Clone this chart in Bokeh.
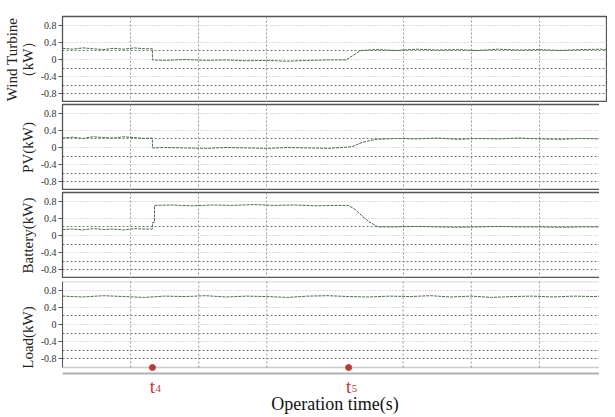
from bokeh.plotting import figure
from bokeh.layouts import column
from bokeh.models import FixedTicker, Range1d, BoxAnnotation
from bokeh.core.properties import value
from bokeh.embed import file_html
from bokeh.resources import INLINE

# ---- data (time in grid divisions) ----
wind_t = [0.0, 0.15, 0.3, 0.45, 0.6, 0.75, 0.9, 1.05, 1.2, 1.32, 1.32, 1.5, 1.8, 2.1, 2.4, 2.7, 3.0, 3.3, 3.6, 3.9,
          4.16, 4.25, 4.38, 4.6, 4.9, 5.2, 5.5, 5.8, 6.1, 6.4, 6.7, 7.0, 7.3, 7.6, 7.9, 8.0]
wind_v = [0.26, 0.24, 0.27, 0.25, 0.23, 0.26, 0.24, 0.27, 0.25, 0.25, -0.01, -0.02, 0.0, -0.02, -0.01, -0.03, -0.02, -0.04, -0.02, -0.01,
          -0.01, 0.08, 0.21, 0.23, 0.21, 0.24, 0.22, 0.23, 0.21, 0.24, 0.22, 0.23, 0.21, 0.23, 0.24, 0.22]

pv_t = [0.0, 0.15, 0.3, 0.45, 0.6, 0.75, 0.9, 1.05, 1.2, 1.32, 1.32, 1.5, 1.8, 2.1, 2.4, 2.7, 3.0, 3.3, 3.6, 3.9,
        4.1, 4.25, 4.4, 4.6, 4.9, 5.2, 5.5, 5.8, 6.1, 6.4, 6.7, 7.0, 7.3, 7.6, 7.9, 8.0]
pv_v = [0.22, 0.24, 0.21, 0.25, 0.23, 0.22, 0.25, 0.23, 0.21, 0.22, -0.01, 0.0, -0.01, -0.02, 0.0, -0.01, -0.02, 0.0, -0.01, -0.02,
        0.0, 0.02, 0.12, 0.19, 0.21, 0.2, 0.22, 0.19, 0.21, 0.2, 0.22, 0.2, 0.19, 0.21, 0.2, 0.22]

bat_t = [0.0, 0.15, 0.3, 0.45, 0.6, 0.75, 0.9, 1.05, 1.2, 1.32, 1.32, 1.35, 1.35, 1.6, 1.9, 2.2, 2.5, 2.8, 3.1, 3.4, 3.7, 4.0,
         4.2, 4.3, 4.4, 4.5, 4.63, 4.9, 5.2, 5.5, 5.8, 6.1, 6.4, 6.7, 7.0, 7.3, 7.6, 8.0]
bat_v = [0.14, 0.15, 0.13, 0.16, 0.14, 0.15, 0.13, 0.16, 0.15, 0.15, 0.3, 0.3, 0.7, 0.71, 0.69, 0.71, 0.7, 0.72, 0.7, 0.71, 0.69, 0.7,
         0.7, 0.6, 0.45, 0.32, 0.2, 0.2, 0.21, 0.2, 0.19, 0.2, 0.21, 0.2, 0.2, 0.19, 0.2, 0.2]

load_t = [0.0, 0.3, 0.6, 0.9, 1.2, 1.5, 1.8, 2.1, 2.4, 2.7, 3.0, 3.3, 3.6, 3.9, 4.2, 4.5, 4.8, 5.1, 5.4, 5.7,
          6.0, 6.3, 6.6, 6.9, 7.2, 7.5, 7.8, 8.0]
load_v = [0.66, 0.64, 0.67, 0.65, 0.63, 0.66, 0.65, 0.67, 0.64, 0.66, 0.65, 0.63, 0.66, 0.67, 0.65, 0.64, 0.66, 0.65, 0.67, 0.64,
          0.66, 0.63, 0.65, 0.66, 0.64, 0.66, 0.65, 0.67]

y_ticks = [0.8, 0.4, 0.0, -0.4, -0.8]
y_tick_labels = ["0.8", "0.4", "0", "-0.4", "-0.8"]
grid_x = [1, 2, 3, 5, 6, 7]
light_levels = [0.8, 0.4, 0.0, -0.4]
dark_levels = [0.2, -0.2, -0.6, -0.8]
event_t = [1.32, 4.2]
event_main = ["t", "t"]
event_sub = ["4", "5"]

labels = ["Wind Turbine\n\uff08kW\uff09", "PV(kW)", "Battery(kW)", "Load(kW)"]
series = [(wind_t, wind_v), (pv_t, pv_v), (bat_t, bat_v), (load_t, load_v)]

SERIF = "Liberation Serif"
LINE = "#4a6b4a"
RED = "#c23b32"
FW = 545
FH = 86
EXT_PX = 26
EXT = EXT_PX / (FH / 2.0)      # extra room below the last panel, data units
PXU = 1.0 / (FH / 2.0)         # one pixel in data units


def make_panel(i):
    last = i == 3
    top = [16, 2, 2, 3][i]
    fh = FH + (EXT_PX if last else 0)
    p = figure(frame_width=FW, frame_height=fh,
               x_range=Range1d(0, 8),
               y_range=Range1d(-1 - EXT if last else -1, 1),
               output_backend="svg", toolbar_location=None,
               min_border_left=54, min_border_right=0,
               min_border_top=top, min_border_bottom=21 if last else 0)
    p.background_fill_color = "white"
    p.border_fill_color = "white"

    # y axis
    ya = p.yaxis[0]
    ya.ticker = FixedTicker(ticks=y_ticks)
    ya.major_label_overrides = {k: s for k, s in zip(y_ticks, y_tick_labels)}
    ya.major_label_text_font = SERIF
    ya.major_label_text_font_size = "10px"
    ya.major_label_text_color = "#333333"
    ya.major_label_standoff = 2
    ya.major_tick_out = 4
    ya.major_tick_in = 0
    ya.major_tick_line_color = "#555555"
    ya.minor_tick_line_color = None
    ya.axis_line_color = "#555555"
    ya.axis_label = labels[i]
    ya.axis_label_text_font = SERIF
    ya.axis_label_text_font_style = "normal"
    ya.axis_label_text_font_size = "15px"
    ya.axis_label_text_line_height = 1.0
    ya.axis_label_text_color = "#222222"
    ya.axis_label_standoff = 2
    ya.bounds = (-1, 1)

    # y grid
    p.ygrid.ticker = FixedTicker(ticks=light_levels, minor_ticks=dark_levels)
    p.ygrid.grid_line_color = "#bbbbbb"
    p.ygrid.grid_line_dash = "1 2"
    p.ygrid.minor_grid_line_color = "#777777"
    p.ygrid.minor_grid_line_dash = "2 2"

    if not last:
        p.xaxis.visible = False
        p.xgrid.ticker = FixedTicker(ticks=grid_x)
        p.xgrid.grid_line_color = "#999999"
        p.xgrid.grid_line_dash = "2 2"
        p.outline_line_color = "#555555"
        p.outline_line_width = 1.3
    else:
        p.xgrid.visible = False
        p.segment(x0=grid_x, y0=[-1] * len(grid_x), x1=grid_x, y1=[1] * len(grid_x),
                  line_color="#999999", line_dash="2 2", line_width=1)
        p.outline_line_color = None
        p.add_layout(BoxAnnotation(left=0, right=8, bottom=-1, top=1, fill_color=None,
                                   line_color="#555555", line_width=1.3))
        # gray time-axis line just below the panel
        gy = -1 - 6 * PXU
        p.segment(x0=[0], y0=[gy], x1=[8], y1=[gy], line_color="#b0b0b0", line_width=2)
        # event markers and labels
        p.scatter(x=event_t, y=[-1] * len(event_t), size=6, color=RED)
        p.text(x=event_t, y=[-1 - 19 * PXU] * len(event_t), text=event_main,
               text_font=value(SERIF), text_font_size="19px", text_color=RED,
               text_align="center", text_baseline="alphabetic")
        p.text(x=[t + 0.085 for t in event_t], y=[-1 - 21 * PXU] * len(event_t), text=event_sub,
               text_font=value(SERIF), text_font_size="11px", text_color=RED,
               text_align="center", text_baseline="alphabetic")
        xa = p.xaxis[0]
        xa.ticker = FixedTicker(ticks=[])
        xa.major_tick_line_color = None
        xa.minor_tick_line_color = None
        xa.major_label_text_font_size = "0px"
        xa.axis_line_color = None
        xa.axis_label = "Operation time(s)"
        xa.axis_label_text_font = SERIF
        xa.axis_label_text_font_style = "normal"
        xa.axis_label_text_font_size = "18px"
        xa.axis_label_text_color = "#111111"
        xa.axis_label_standoff = 0

    t, v = series[i]
    p.line(t, v, line_color=LINE, line_width=1, line_dash="3 1")
    return p


panels = [make_panel(i) for i in range(4)]
layout = column(*panels, spacing=0)
open("out.html", "w").write(file_html(layout, INLINE))
